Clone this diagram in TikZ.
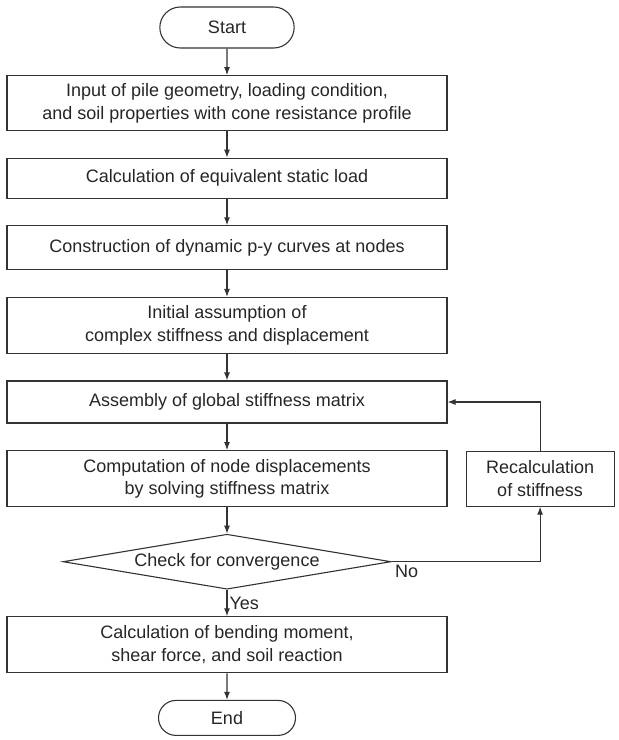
\documentclass[tikz,border=0pt]{standalone}
\usepackage{fontspec}
\setmainfont{Liberation Sans}
\usetikzlibrary{arrows.meta, positioning, shapes.geometric, shapes.misc}

\begin{document}
\begin{tikzpicture}[
    node distance=26.5pt and 18pt,
    every node/.style={font=\fontsize{18}{22.5}\selectfont, text=black!85},
    term/.style={draw=black!80, line width=1.1pt, rounded rectangle,
                 minimum width=141pt, minimum height=41pt},
    proc/.style={draw=black!80, line width=1.1pt, minimum width=440pt,
                 minimum height=42pt, align=center, inner sep=3pt},
    tall/.style={proc, minimum height=56pt},
    side/.style={proc, minimum width=148pt, minimum height=55pt},
    cond/.style={draw=black!80, line width=1.1pt, diamond, aspect=5.96,
                 inner sep=0pt, minimum width=328pt, minimum height=55pt},
    arr/.style={-{Latex[length=8pt,width=6pt]}, line width=1.1pt, draw=black!80}
]
\useasboundingbox (0,0) rectangle (619pt,-740pt);
\node[term] (start) at (227pt,-27.5pt) {Start};
\node[tall,below=of start,minimum height=55pt] (input)
    {Input of pile geometry, loading condition,\\
     and soil properties with cone resistance profile};
\node[proc,below=of input,minimum height=40pt] (load)
    {Calculation of equivalent static load};
\node[proc,below=of load,minimum height=44pt] (pycurve)
    {Construction of dynamic p-y curves at nodes};
\node[tall,below=of pycurve] (initial)
    {Initial assumption of\\ complex stiffness and displacement};
\node[proc,below=of initial] (assembly)
    {Assembly of global stiffness matrix};
\node[tall,below=of assembly] (comp)
    {Computation of node displacements\\ by solving stiffness matrix};
\node[side,right=of comp] (recalc) {Recalculation\\ of stiffness};
\node[cond,below=of comp] (check) {Check for convergence};
\node[tall,below=of check] (result)
    {Calculation of bending moment,\\ shear force, and soil reaction};
\node[term,below=of result,minimum height=35pt,inner sep=2pt] (end) {End};
\draw[arr] (start) -- (input);
\draw[arr] (input) -- (load);
\draw[arr] (load) -- (pycurve);
\draw[arr] (pycurve) -- (initial);
\draw[arr] (initial) -- (assembly);
\draw[arr] (assembly) -- (comp);
\draw[arr] (comp) -- (check);
\draw[arr] (check) -- node[right, inner sep=2pt] {Yes} (result);
\draw[arr] (result) -- (end);
\draw[arr] (check.east) -| node[pos=0, below right, inner sep=3pt] {No} (recalc.south);
\draw[arr] (recalc.north) |- (assembly.east);
\end{tikzpicture}
\end{document}
